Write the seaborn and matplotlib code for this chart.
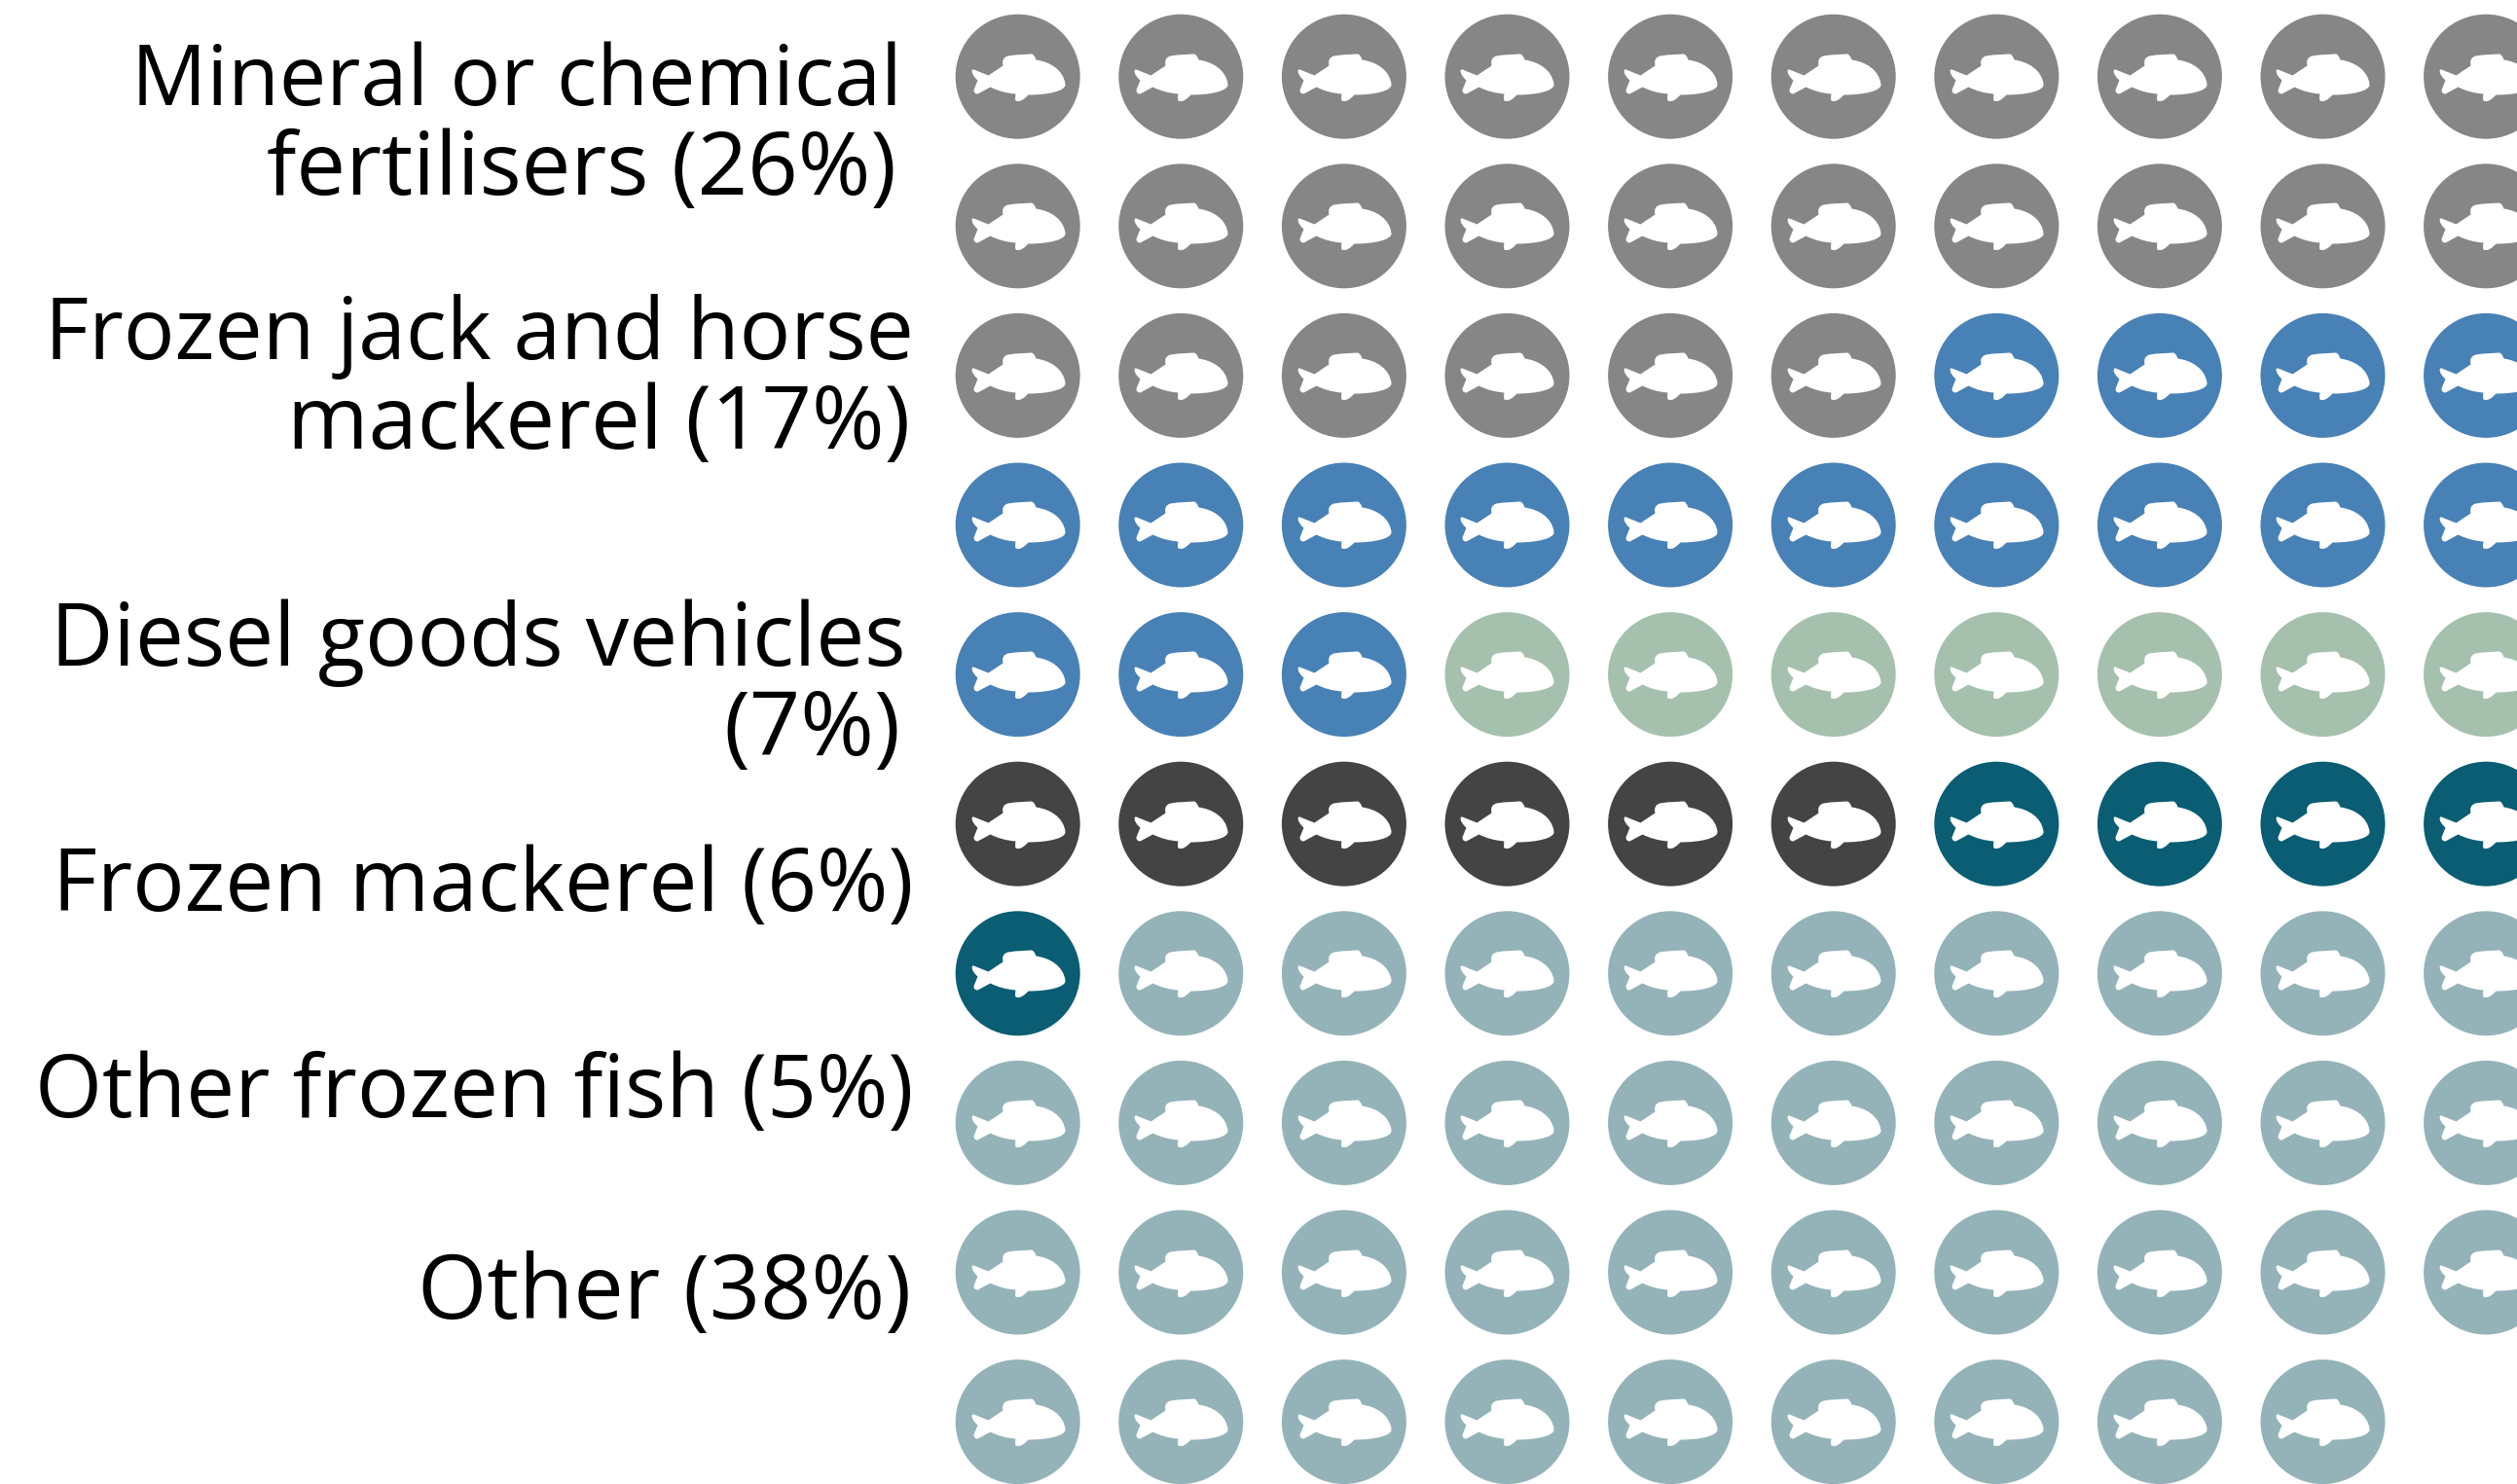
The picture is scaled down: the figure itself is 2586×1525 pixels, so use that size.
import matplotlib
matplotlib.use("Agg")
import matplotlib.pyplot as plt
from matplotlib.path import Path
import pandas as pd
import seaborn as sns

# one fish = 1% of the total
categories = ['Mineral or chemical fertilisers', 'Frozen jack and horse mackerel',
              'Diesel goods vehicles', 'Frozen mackerel', 'Other frozen fish', 'Other']
icon_counts = [26, 17, 7, 6, 5, 38]
colors = ['#868686', '#4881b5', '#a5c1ad', '#444444', '#0a5d73', '#94b3b9']
label_lines = ['Mineral or chemical', 'fertilisers (26%)',
               'Frozen jack and horse', 'mackerel (17%)',
               'Diesel goods vehicles', '(7%)',
               'Frozen mackerel (6%)',
               'Other frozen fish (5%)',
               'Other (38%)']
per_row = 10

W, H = 2586, 1525
COL_W, ROW_H = 167.6, 153.6
X0, Y0 = 1045.7, 78.7

# fish outline, px from the circle centre (y up)
verts = [(-46, 8), (-31, 2), (-16, 12),
         (-18, 20), (-11, 22), (-4, 23), (13, 24),
         (16, 24), (18, 18),
         (32, 16), (46, 8), (48, -7),
         (49, -14), (30, -18), (10, -18),
         (6, -22), (2, -26), (-3, -24),
         (-4, -22), (-3, -17),
         (-17, -16), (-29, -10),
         (-42, -17), (-46, -17), (-46, -13),
         (-42, -3),
         (-49, 3), (-49, 9), (-46, 8)]
codes = [Path.MOVETO, Path.LINETO, Path.LINETO,
         Path.CURVE3, Path.CURVE3, Path.LINETO, Path.LINETO,
         Path.CURVE3, Path.CURVE3,
         Path.CURVE4, Path.CURVE4, Path.CURVE4,
         Path.CURVE4, Path.CURVE4, Path.CURVE4,
         Path.CURVE4, Path.CURVE4, Path.CURVE4,
         Path.CURVE3, Path.CURVE3,
         Path.CURVE3, Path.CURVE3,
         Path.LINETO, Path.CURVE3, Path.CURVE3,
         Path.LINETO,
         Path.CURVE4, Path.CURVE4, Path.CURVE4]
fish = Path(verts, codes)
fish_extent = max(max(abs(x), abs(y)) for x, y in verts)

rows = []
n = 0
for cat, count in zip(categories, icon_counts):
    for i in range(count):
        rows.append({'category': cat, 'col': n % per_row, 'row': n // per_row})
        n += 1
df = pd.DataFrame(rows)

sns.set_theme(style='white')
plt.rcParams['font.family'] = ['Open Sans', 'DejaVu Sans']

fig = plt.figure(figsize=(W / 100, H / 100), dpi=100)
ax = fig.add_axes([0, 0, 1, 1])

sns.scatterplot(data=df, x='col', y='row', hue='category', palette=dict(zip(categories, colors)),
                s=8493, linewidth=0, legend=False, ax=ax, zorder=2, clip_on=False)
sns.scatterplot(data=df, x='col', y='row', marker=fish, color='white',
                s=(fish_extent * 2 * 0.72) ** 2, linewidth=0, legend=False, ax=ax, zorder=3, clip_on=False)

ax.set_xlim(-X0 / COL_W, (W - X0) / COL_W)
ax.set_ylim((H - Y0) / ROW_H, -Y0 / ROW_H)
ax.axis('off')

# text layout, one entry per line: right edge px, baseline px, font size
line_right = [927, 921, 939, 935, 931, 925, 938, 938, 936]
line_base = [108, 200, 369, 461, 684, 776, 936, 1148, 1355]
line_size = [62, 65, 63, 65, 64, 66, 64, 64, 66]
for line, xr, yb, size in zip(label_lines, line_right, line_base, line_size):
    fig.text(xr / W, 1 - yb / H, line, ha='right', va='baseline', fontsize=size, color='black')

fig.savefig('out.png', dpi=100)
